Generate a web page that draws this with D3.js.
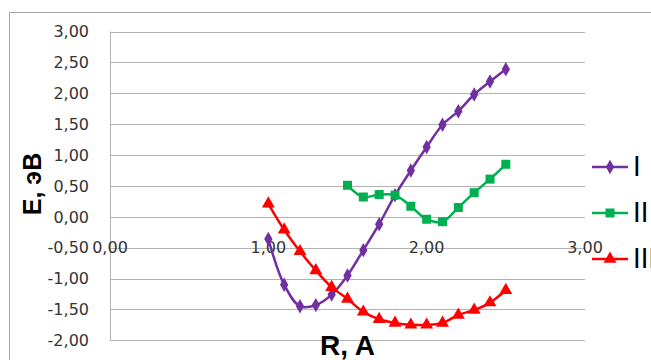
<!DOCTYPE html>
<html>
<head>
<meta charset="utf-8">
<script src="https://cdn.jsdelivr.net/npm/d3@7"></script>
<style>
  body { margin: 0; background: #fff; }
  .tick-label { font-family: "DejaVu Sans", Verdana, sans-serif; font-size: 16px; fill: #333; }
  .axis-title { font-family: "Liberation Sans", Arial, sans-serif; font-weight: bold; fill: #000; }
  .legend-label { font-family: "DejaVu Sans", Verdana, sans-serif; font-size: 26px; fill: #000; }
</style>
</head>
<body>
<svg id="chart" width="651" height="360"></svg>
<script>
// series data
const xI = [1.0, 1.1, 1.2, 1.3, 1.4, 1.5, 1.6, 1.7, 1.8, 1.9, 2.0, 2.1, 2.2, 2.3, 2.4, 2.5];
const yI = [-0.36, -1.10, -1.45, -1.43, -1.26, -0.95, -0.54, -0.12, 0.35, 0.75, 1.13, 1.49, 1.71, 1.98, 2.19, 2.39];

const xII = [1.5, 1.6, 1.7, 1.8, 1.9, 2.0, 2.1, 2.2, 2.3, 2.4, 2.5];
const yII = [0.51, 0.32, 0.36, 0.35, 0.17, -0.04, -0.08, 0.15, 0.39, 0.61, 0.85];

const xIII = [1.0, 1.1, 1.2, 1.3, 1.4, 1.5, 1.6, 1.7, 1.8, 1.9, 2.0, 2.1, 2.2, 2.3, 2.4, 2.5];
const yIII = [0.21, -0.21, -0.56, -0.87, -1.14, -1.33, -1.54, -1.66, -1.72, -1.75, -1.75, -1.72, -1.59, -1.51, -1.39, -1.19];

const seriesNames = ['I', 'II', 'III'];
const xTicks = [0, 1, 2, 3];
const yTicks = [-2, -1.5, -1, -0.5, 0, 0.5, 1, 1.5, 2, 2.5, 3];

const fmt = v => d3.format('.2f')(v).replace('.', ',').replace('−', '-');

const svg = d3.select('#chart');
const plot = {left: 110, right: 585, top: 31.5, bottom: 340.3};

const x = d3.scaleLinear().domain([0, 3]).range([plot.left, plot.right]);
const y = d3.scaleLinear().domain([-2, 3]).range([plot.bottom, plot.top]);

// outer chart border
svg.append('rect')
    .attr('x', 9.5).attr('y', 12.5)
    .attr('width', 700).attr('height', 400)
    .attr('fill', 'none')
    .attr('stroke', '#a6a6a6');

// horizontal gridlines
svg.append('g')
    .selectAll('line')
    .data(yTicks)
    .enter().append('line')
    .attr('x1', plot.left).attr('x2', plot.right)
    .attr('y1', d => Math.round(y(d)) + 0.5)
    .attr('y2', d => Math.round(y(d)) + 0.5)
    .attr('stroke', '#b3b3b3')
    .attr('stroke-width', 1);

// vertical axis line
svg.append('line')
    .attr('x1', plot.left + 0.5).attr('x2', plot.left + 0.5)
    .attr('y1', plot.top).attr('y2', plot.bottom)
    .attr('stroke', '#b3b3b3');

// y tick labels
svg.append('g')
    .selectAll('text')
    .data(yTicks)
    .enter().append('text')
    .attr('class', 'tick-label')
    .attr('x', 89)
    .attr('y', d => y(d))
    .attr('dy', '0.36em')
    .attr('text-anchor', 'end')
    .text(d => fmt(d));

// x tick labels
svg.append('g')
    .selectAll('text')
    .data(xTicks)
    .enter().append('text')
    .attr('class', 'tick-label')
    .attr('x', d => x(d))
    .attr('y', y(-0.5))
    .attr('dy', '0.36em')
    .attr('text-anchor', 'middle')
    .text(d => fmt(d));

// axis titles
svg.append('text')
    .attr('class', 'axis-title')
    .attr('transform', 'translate(41,184) rotate(-90)')
    .attr('text-anchor', 'middle')
    .style('font-size', '25px')
    .text('E, эВ');

svg.append('text')
    .attr('class', 'axis-title')
    .attr('x', (plot.left + plot.right) / 2)
    .attr('y', 355)
    .attr('text-anchor', 'middle')
    .style('font-size', '28px')
    .text('R, A');

const series = [
    {name: seriesNames[0], xs: xI, ys: yI, color: '#7030a0', marker: d3.symbolDiamond, size: 60},
    {name: seriesNames[1], xs: xII, ys: yII, color: '#00b050', marker: d3.symbolSquare, size: 81},
    {name: seriesNames[2], xs: xIII, ys: yIII, color: '#ff0000', marker: d3.symbolTriangle, size: 72}
];

const line = d3.line()
    .x(d => x(d[0]))
    .y(d => y(d[1]))
    .curve(d3.curveCatmullRom);

series.forEach(s => {
    const pts = s.xs.map((v, i) => [v, s.ys[i]]);
    svg.append('path')
        .datum(pts)
        .attr('d', line)
        .attr('fill', 'none')
        .attr('stroke', s.color)
        .attr('stroke-width', 2.5);
    svg.append('g')
        .selectAll('path')
        .data(pts)
        .enter().append('path')
        .attr('d', d3.symbol().type(s.marker).size(s.size))
        .attr('transform', d => 'translate(' + x(d[0]) + ',' + y(d[1]) + ')')
        .attr('fill', s.color);
});

// legend (the reference's right edge cuts the last label)
const legendY = [167, 213, 259];
series.forEach((s, i) => {
    const g = svg.append('g').attr('transform', 'translate(0,' + legendY[i] + ')');
    g.append('line')
        .attr('x1', 592).attr('x2', 628)
        .attr('stroke', s.color)
        .attr('stroke-width', 2.5);
    g.append('path')
        .attr('d', d3.symbol().type(s.marker).size(s.size))
        .attr('transform', 'translate(610,0)')
        .attr('fill', s.color);
    g.append('text')
        .attr('class', 'legend-label')
        .attr('x', 633)
        .attr('dy', '0.36em')
        .text(s.name);
});
</script>
</body>
</html>
